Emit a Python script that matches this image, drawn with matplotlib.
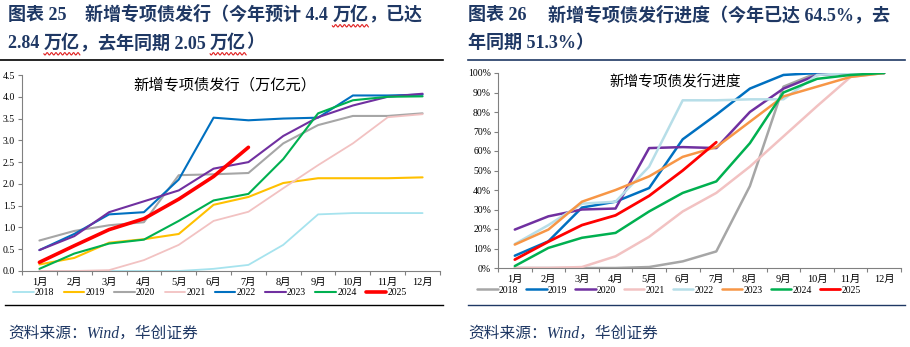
import numpy as np
import matplotlib
matplotlib.use('Agg')
import matplotlib.pyplot as plt
from matplotlib.lines import Line2D

plt.rcParams['font.family'] = ['Liberation Serif', 'Noto Sans CJK SC', 'DejaVu Sans']

months = ['1月', '2月', '3月', '4月', '5月', '6月', '7月', '8月', '9月', '10月', '11月', '12月']
years = ['2018', '2019', '2020', '2021', '2022', '2023', '2024', '2025']

# 新增专项债发行（万亿元）
amt_2018 = [0, 0, 0, 0, 0, 0.05, 0.14, 0.6, 1.3, 1.33, 1.33, 1.33]
amt_2019 = [0.15, 0.3, 0.65, 0.73, 0.85, 1.52, 1.7, 2.02, 2.13, 2.13, 2.13, 2.15]
amt_2020 = [0.7, 0.92, 1.05, 1.12, 2.2, 2.22, 2.25, 2.93, 3.35, 3.56, 3.56, 3.62]
amt_2021 = [0, 0, 0.02, 0.25, 0.6, 1.15, 1.36, 1.9, 2.43, 2.93, 3.53, 3.6]
amt_2022 = [0.48, 0.85, 1.3, 1.35, 2.1, 3.52, 3.46, 3.5, 3.52, 4.03, 4.03, 4.05]
amt_2023 = [0.48, 0.8, 1.35, 1.6, 1.85, 2.35, 2.5, 3.1, 3.53, 3.8, 4.0, 4.07]
amt_2024 = [0.05, 0.4, 0.63, 0.72, 1.15, 1.62, 1.77, 2.57, 3.62, 3.92, 4.0, 4.01]
amt_2025 = [0.2, 0.58, 0.95, 1.2, 1.65, 2.17, 2.84]

# 新增专项债发行进度（%）
pct_2018 = [0, 0, 0, 0, 0.5, 3.4, 8.5, 42, 93, 100, 100, 100]
pct_2019 = [6.3, 13.7, 31, 34, 41, 66, 78.6, 92, 99, 100, 100, 100]
pct_2020 = [19.7, 26.5, 30, 30.5, 61.5, 62, 61.5, 80, 92, 99, 100, 100]
pct_2021 = [0, 0, 0.5, 6, 16, 29, 38.5, 52, 67.5, 83, 98, 100]
pct_2022 = [12.3, 22, 33, 34, 52, 86, 86, 86.5, 86.5, 99, 100, 100]
pct_2023 = [12, 19.7, 34, 40, 47, 57, 62, 75, 88, 93, 98, 100]
pct_2024 = [1, 10.3, 15.5, 18, 29, 38.5, 44.4, 64, 90, 97, 99, 100]
pct_2025 = [4.3, 13.5, 22, 27, 37, 50, 64.5]

left_series = [amt_2018, amt_2019, amt_2020, amt_2021, amt_2022, amt_2023, amt_2024, amt_2025]
right_series = [pct_2018, pct_2019, pct_2020, pct_2021, pct_2022, pct_2023, pct_2024, pct_2025]

left_colors = ['#A6E3EE', '#FFC000', '#A6A6A6', '#F2C2C2', '#0070C0', '#7030A0', '#00B050', '#FF0000']
right_colors = ['#A6A6A6', '#0070C0', '#7030A0', '#F2C2C2', '#B7DEE8', '#F79646', '#00B050', '#FF0000']
left_widths = [1.3, 1.5, 1.5, 1.3, 1.5, 1.5, 1.5, 2.6]
right_widths = [1.8, 1.8, 1.8, 1.8, 1.8, 1.8, 1.8, 2.0]

navy = '#1F3864'
W, H = 910, 347
fig = plt.figure(figsize=(W / 100, H / 100), dpi=100)
renderer = fig.canvas.get_renderer()


def px_axes(x0, y0, x1, y1):
    return fig.add_axes([x0 / W, 1 - y1 / H, (x1 - x0) / W, (y1 - y0) / H])


def style_axes(ax):
    ax.set_xlim(0.5, 12.5)
    for s in ['top', 'right']:
        ax.spines[s].set_visible(False)
    for s in ['left', 'bottom']:
        ax.spines[s].set_color('#808080')
        ax.spines[s].set_linewidth(0.8)
    ax.set_xticks(np.arange(0.5, 13, 1))
    ax.set_xticklabels([])
    ax.set_xticks(np.arange(1, 13), minor=True)
    ax.set_xticklabels(months, minor=True, fontsize=7.5)
    ax.tick_params(axis='x', which='major', length=3, color='#808080', width=0.8)
    ax.tick_params(axis='x', which='minor', length=0, pad=5)
    ax.tick_params(axis='y', length=3, color='#808080', width=0.8, labelsize=7, pad=2)


def wavy(x0, x1, y):  # 红色波浪下划线（像素坐标）
    xs = np.linspace(x0, x1, int((x1 - x0) * 2) + 2)
    ys = y + 1.2 * np.sin((xs - x0) / 2.2 * np.pi)
    fig.add_artist(Line2D(xs / W, 1 - ys / H, color='#E02020', lw=0.8))


def run_text(x, y, pieces, **kw):  # 分段写标题，返回每段的像素范围
    spans = []
    for s in pieces:
        t = fig.text(x / W, 1 - y / H, s, **kw)
        bb = t.get_window_extent(renderer)
        spans.append((bb.x0, bb.x1, H - bb.y0))
        x = bb.x1
    return spans


x = np.arange(1, 13)

# ---- 左图
ax1 = px_axes(22, 75, 440, 271)
for data, c, lw, yr in zip(left_series, left_colors, left_widths, years):
    ax1.plot(x[:len(data)], data, color=c, lw=lw, label=yr, solid_capstyle='round')
style_axes(ax1)
ax1.set_ylim(0, 4.5)
ax1.set_yticks(np.arange(0, 4.6, 0.5))
ax1.set_yticklabels(['%.1f' % v for v in np.arange(0, 4.6, 0.5)])
ax1.text(0.486, 0.95, '新增专项债发行（万亿元）', transform=ax1.transAxes, ha='center', va='center',
         fontsize=11, family=['Noto Sans CJK SC'])
ax1.legend(loc='center', bbox_to_anchor=(0.45, -0.112), ncol=8, frameon=False, fontsize=7,
           handlelength=2.1, handletextpad=0.15, columnspacing=0.95, borderpad=0)

# ---- 右图
ax2 = px_axes(498, 73, 901, 268)
for data, c, lw, yr in zip(right_series, right_colors, right_widths, years):
    ax2.plot(x[:len(data)], data, color=c, lw=lw, label=yr, solid_capstyle='round')
style_axes(ax2)
ax2.set_ylim(0, 100)
ax2.set_yticks(np.arange(0, 101, 10))
ax2.set_yticklabels(['%d%%' % v for v in range(0, 101, 10)])
ax2.text(0.44, 0.954, '新增专项债发行进度', transform=ax2.transAxes, ha='center', va='center',
         fontsize=10.5, family=['Noto Sans CJK SC'])
ax2.legend(loc='center', bbox_to_anchor=(0.424, -0.113), ncol=8, frameon=False, fontsize=7,
           handlelength=2.1, handletextpad=0.15, columnspacing=0.8, borderpad=0)

# ---- 标题、分隔线、来源
tkw = dict(color=navy, fontsize=13, fontweight='bold', va='center', ha='left')
fig.text(8 / W, 1 - 15 / H, '图表 25', **tkw)
sp = run_text(85, 15, ['新增专项债发行（今年预计 4.4 ', '万亿', '，已达'], **tkw)
wavy(sp[1][0], sp[1][1], sp[1][2] + 2)
sp = run_text(8, 43, ['2.84 ', '万亿', '，去年同期 2.05 ', '万亿', '）'], **tkw)
wavy(sp[1][0], sp[1][1], sp[1][2] + 2)
wavy(sp[3][0], sp[3][1], sp[3][2] + 2)
fig.text(468 / W, 1 - 15 / H, '图表 26', **tkw)
fig.text(548 / W, 1 - 15 / H, '新增专项债发行进度（今年已达 64.5%，去', **tkw)
fig.text(468 / W, 1 - 43 / H, '年同期 51.3%）', **tkw)

fig.add_artist(Line2D([0 / W, 443 / W], [1 - 60 / H] * 2, color='black', lw=1.2))
fig.add_artist(Line2D([5 / W, 443 / W], [1 - 305 / H] * 2, color='black', lw=1.0))
fig.add_artist(Line2D([468 / W, 905 / W], [1 - 60 / H] * 2, color=navy, lw=1.2))
fig.add_artist(Line2D([468 / W, 905 / W], [1 - 305 / H] * 2, color=navy, lw=1.0))

skw = dict(color=navy, fontsize=11.3, style='italic', va='center', ha='left')
fig.text(8 / W, 1 - 334 / H, '资料来源：Wind，华创证券', **skw)
fig.text(468 / W, 1 - 334 / H, '资料来源：Wind，华创证券', **skw)

fig.savefig('out.png', dpi=100)
